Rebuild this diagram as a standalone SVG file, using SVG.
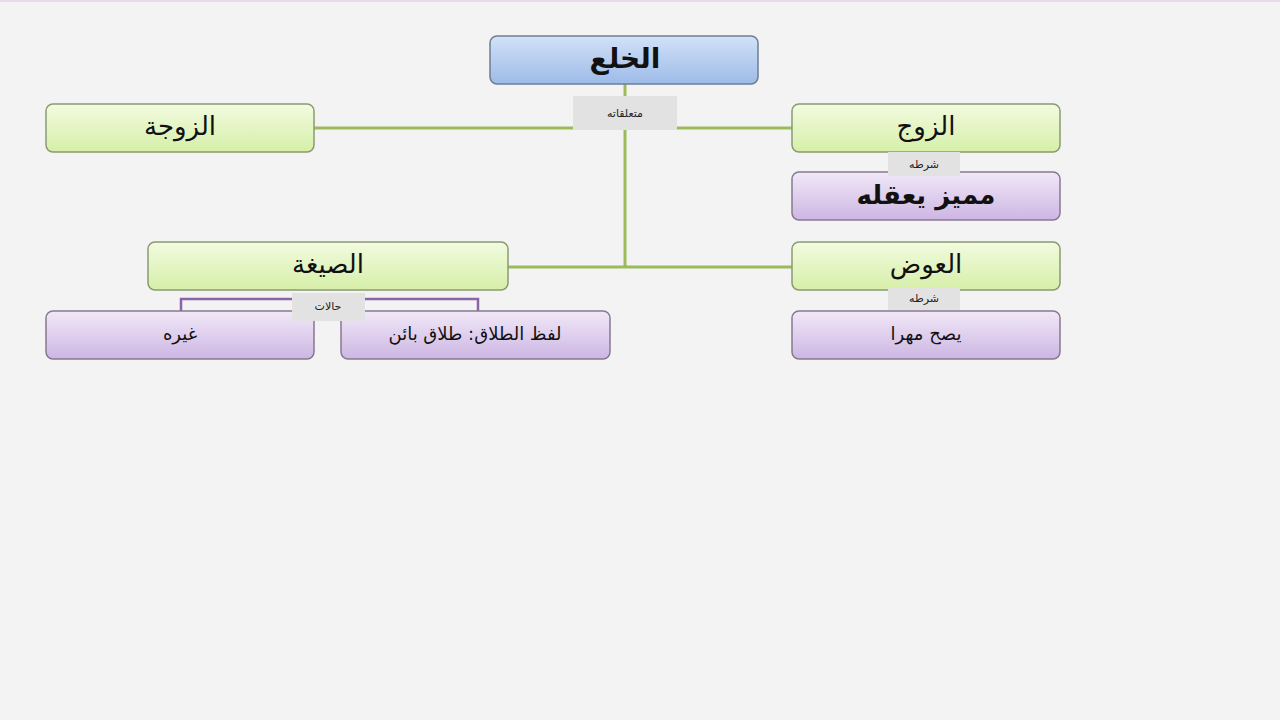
<svg xmlns="http://www.w3.org/2000/svg" width="1280" height="720" viewBox="0 0 1280 720">
<defs>
<linearGradient id="gb" x1="0" y1="0" x2="0" y2="1"><stop offset="0" stop-color="#d2e1f7"/><stop offset="1" stop-color="#9dbbe8"/></linearGradient>
<linearGradient id="gg" x1="0" y1="0" x2="0" y2="1"><stop offset="0" stop-color="#f2fbe0"/><stop offset="1" stop-color="#d6efa8"/></linearGradient>
<linearGradient id="gp" x1="0" y1="0" x2="0" y2="1"><stop offset="0" stop-color="#f1e8f8"/><stop offset="1" stop-color="#cdb6e3"/></linearGradient>
</defs>
<style>
.b{fill:url(#gb);stroke:#6e7d92;stroke-width:1.5}
.g{fill:url(#gg);stroke:#8a9a72;stroke-width:1.5}
.p{fill:url(#gp);stroke:#857a8f;stroke-width:1.5}
.t{font-family:"DejaVu Sans","Noto Sans",sans-serif;text-anchor:middle;fill:#111}
.big{font-size:28px}
.mid{font-size:26px}
.sm{font-size:18px}
.lb{fill:#e2e2e2}
.lt{font-family:"DejaVu Sans",sans-serif;font-size:11px;text-anchor:middle;fill:#222}
</style>
<rect width="1280" height="720" fill="#f4f3f4"/>
<rect x="0" y="0" width="1280" height="2" fill="#e6d9ec"/>
<g id="connectors" stroke="#9bbb59" stroke-width="3" fill="none">
<line x1="625" y1="84" x2="625" y2="268"/>
<line x1="314" y1="128" x2="792" y2="128"/>
<line x1="508" y1="267" x2="792" y2="267"/>
<rect x="181" y="299" width="297" height="14" stroke="#8a64a8" stroke-width="2.5"/>
</g>
<g id="n1"><rect class="b" x="490" y="36" width="268" height="48" rx="7"/><text class="t big" x="625" y="68" font-weight="bold">الخلع</text></g>
<g id="n2"><rect class="g" x="46" y="104" width="268" height="48" rx="7"/><text class="t mid" x="180" y="135">الزوجة</text></g>
<g id="n3"><rect class="g" x="792" y="104" width="268" height="48" rx="7"/><text class="t mid" x="926" y="135">الزوج</text></g>
<g id="n4"><rect class="p" x="792" y="172" width="268" height="48" rx="7"/><text class="t mid" x="926" y="204" font-weight="bold">مميز يعقله</text></g>
<g id="n5"><rect class="g" x="148" y="242" width="360" height="48" rx="7"/><text class="t mid" x="328" y="273">الصيغة</text></g>
<g id="n6"><rect class="g" x="792" y="242" width="268" height="48" rx="7"/><text class="t mid" x="926" y="273">العوض</text></g>
<g id="n7"><rect class="p" x="46" y="311" width="268" height="48" rx="7"/><text class="t sm" x="180" y="340">غيره</text></g>
<g id="n8"><rect class="p" x="341" y="311" width="269" height="48" rx="7"/><text class="t sm" x="475" y="340">لفظ الطلاق: طلاق بائن</text></g>
<g id="n9"><rect class="p" x="792" y="311" width="268" height="48" rx="7"/><text class="t sm" x="926" y="340">يصح مهرا</text></g>
<g id="labels">
<rect class="lb" x="573" y="96" width="104" height="34"/><text class="lt" x="625" y="117">متعلقاته</text>
<rect class="lb" x="888" y="152" width="72" height="24"/><text class="lt" x="924" y="168">شرطه</text>
<rect class="lb" x="888" y="287" width="72" height="23"/><text class="lt" x="924" y="302">شرطه</text>
<rect class="lb" x="292" y="293" width="73" height="28"/><text class="lt" x="328" y="310">حالات</text>
</g>
</svg>
